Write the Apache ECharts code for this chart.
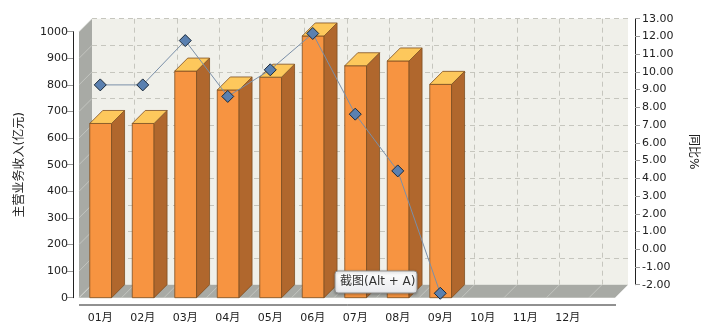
<!DOCTYPE html>
<html>
<head>
<meta charset="utf-8">
<script src="https://cdn.jsdelivr.net/npm/echarts@6/dist/echarts.min.js"></script>
<style>
  html, body { margin: 0; padding: 0; background: #fff; }
  #main { width: 708px; height: 329px; }
</style>
</head>
<body>
<div id="main"></div>
<script>
// 数据
const months = ['01月', '02月', '03月', '04月', '05月', '06月', '07月', '08月', '09月', '10月', '11月', '12月'];
const revenue = [655, 655, 852, 781, 829, 984, 872, 890, 802];
const yoy = [10.0, 10.0, 12.5, 9.35, 10.85, 12.9, 8.35, 5.15, -1.75];
const revAxis = { min: 0, max: 1000, interval: 100 };
const yoyAxis = { min: -2, max: 13, interval: 1 };

// 布局 (前平面 + 3D 深度)
const L = 79, T = 31.7, W = 510, H = 266, D = 13, EXT = 26;
const CAT_W = W / months.length;
const FONT = 'DejaVu Sans, Noto Sans CJK SC, sans-serif';

const chart = echarts.init(document.getElementById('main'), null, { renderer: 'canvas' });

// 3D 柱子
function renderBar(params, api) {
  const top = api.coord([api.value(0), api.value(1)]);
  const base = api.coord([api.value(0), 0]);
  const x0 = top[0] - 10.5, x1 = top[0] + 11.3;
  const yt = top[1], yb = base[1];
  const edge = { stroke: '#7d4f22', lineWidth: 0.8 };
  return {
    type: 'group',
    children: [
      { type: 'polygon', shape: { points: [[x0, yt], [x1, yt], [x1, yb], [x0, yb]] },
        style: Object.assign({ fill: '#f79441' }, edge) },
      { type: 'polygon', shape: { points: [[x1, yt], [x1 + D, yt - D], [x1 + D, yb - D], [x1, yb]] },
        style: Object.assign({ fill: '#b0672d' }, edge) },
      { type: 'polygon', shape: { points: [[x0, yt], [x0 + D, yt - D], [x1 + D, yt - D], [x1, yt]] },
        style: Object.assign({ fill: '#fdc85c' }, edge) }
    ]
  };
}

// 侧墙 / 地面上的淡色斜线
const wallLines = [];
for (let i = 0; i <= 10; i++) {
  const y = T + H * i / 10;
  wallLines.push({ type: 'line', z: 1, shape: { x1: L, y1: y, x2: L + D, y2: y - D },
    style: { stroke: '#d4d6d0', lineWidth: 1, opacity: 0.6 } });
}
for (let i = 0; i <= months.length; i++) {
  const x = L + CAT_W * i;
  wallLines.push({ type: 'line', z: 1, shape: { x1: x, y1: T + H, x2: x + D, y2: T + H - D },
    style: { stroke: '#d4d6d0', lineWidth: 1, opacity: 0.6 } });
}

const option = {
  animation: false,
  textStyle: { fontFamily: FONT },
  grid: [
    { left: L, top: T, width: W, height: H },
    { left: L + D, top: T - D, width: W + EXT, height: H, show: true,
      backgroundColor: '#f0f0ea', borderWidth: 0 }
  ],
  xAxis: [
    { type: 'category', gridIndex: 0, data: months, offset: 2,
      axisLine: { show: false },
      axisTick: { length: 10, lineStyle: { color: '#999' } },
      axisLabel: { color: '#222', fontSize: 11, margin: 13, fontFamily: FONT },
      splitLine: { show: false } },
    { type: 'value', gridIndex: 1, min: 0, max: (W + EXT) / CAT_W, interval: 1,
      axisLine: { show: false }, axisTick: { show: false }, axisLabel: { show: false },
      splitLine: { show: true, showMinLine: false, showMaxLine: false,
        lineStyle: { color: '#c6c6be', type: [5, 4] } } }
  ],
  yAxis: [
    { type: 'value', gridIndex: 0, min: revAxis.min, max: revAxis.max, interval: revAxis.interval,
      offset: 6, name: '主营业务收入(亿元)', nameLocation: 'middle', nameRotate: 90, nameGap: 47,
      nameTextStyle: { color: '#222', fontSize: 12, fontFamily: FONT },
      axisLine: { show: true, lineStyle: { color: '#222' } },
      axisTick: { show: true, length: 6, lineStyle: { color: '#999' } },
      axisLabel: { color: '#222', fontSize: 11, margin: 5, formatter: v => String(v) },
      splitLine: { show: false } },
    { type: 'value', gridIndex: 1, min: revAxis.min, max: revAxis.max, interval: revAxis.interval,
      axisLine: { show: false }, axisTick: { show: false }, axisLabel: { show: false },
      splitLine: { show: true, showMinLine: false, lineStyle: { color: '#c6c6be', type: [5, 4] } } },
    { type: 'value', gridIndex: 1, position: 'right', min: yoyAxis.min, max: yoyAxis.max,
      interval: yoyAxis.interval, offset: 7,
      name: '同比%', nameLocation: 'middle', nameRotate: -90, nameGap: 52,
      nameTextStyle: { color: '#222', fontSize: 12, fontFamily: FONT },
      axisLine: { show: true, lineStyle: { color: '#222' } },
      axisTick: { show: true, length: 5, lineStyle: { color: '#999' } },
      axisLabel: { color: '#222', fontSize: 11, margin: 7, formatter: v => v.toFixed(2) },
      splitLine: { show: false } },
    { type: 'value', gridIndex: 0, min: yoyAxis.min, max: yoyAxis.max, interval: yoyAxis.interval,
      show: false, splitLine: { show: false } }
  ],
  series: [
    { type: 'custom', xAxisIndex: 0, yAxisIndex: 0, z: 3,
      data: revenue.map((v, i) => [i, v]), renderItem: renderBar },
    { type: 'line', xAxisIndex: 0, yAxisIndex: 3, z: 5, data: yoy,
      symbol: 'diamond', symbolSize: 12,
      lineStyle: { color: '#7a8fa8', width: 1 },
      itemStyle: { color: '#5a80b0', borderColor: '#1c2a3a', borderWidth: 1 } }
  ],
  graphic: [
    // 左墙
    { type: 'polygon', z: 0, shape: { points: [[L, T], [L + D, T - D], [L + D, T + H - D], [L, T + H]] },
      style: { fill: '#a8aaa5' } },
    // 地面
    { type: 'polygon', z: 0, shape: { points: [[L, T + H], [L + D, T + H - D], [L + W + EXT + D, T + H - D], [L + W + EXT, T + H]] },
      style: { fill: '#a8aaa5' } },
    ...wallLines,
    // x 轴线
    { type: 'line', z: 1, shape: { x1: L, y1: T + H + 7.3, x2: L + W + EXT + 1, y2: T + H + 7.3 },
      style: { stroke: '#222', lineWidth: 1 } },
    // 截图提示
    { type: 'rect', z: 100, shape: { x: 335, y: 271, width: 82, height: 22, r: 3 },
      style: { fill: new echarts.graphic.LinearGradient(0, 0, 0, 1, [
          { offset: 0, color: '#ffffff' }, { offset: 1, color: '#e9eaee' }]),
        stroke: '#8f8f8f', lineWidth: 1, shadowBlur: 3, shadowColor: 'rgba(0,0,0,0.3)', shadowOffsetY: 1 } },
    { type: 'text', z: 101, style: { x: 340, y: 282, text: '截图(Alt + A)', fill: '#333',
        font: '12px ' + FONT, verticalAlign: 'middle' } }
  ]
};

chart.setOption(option);
</script>
</body>
</html>
